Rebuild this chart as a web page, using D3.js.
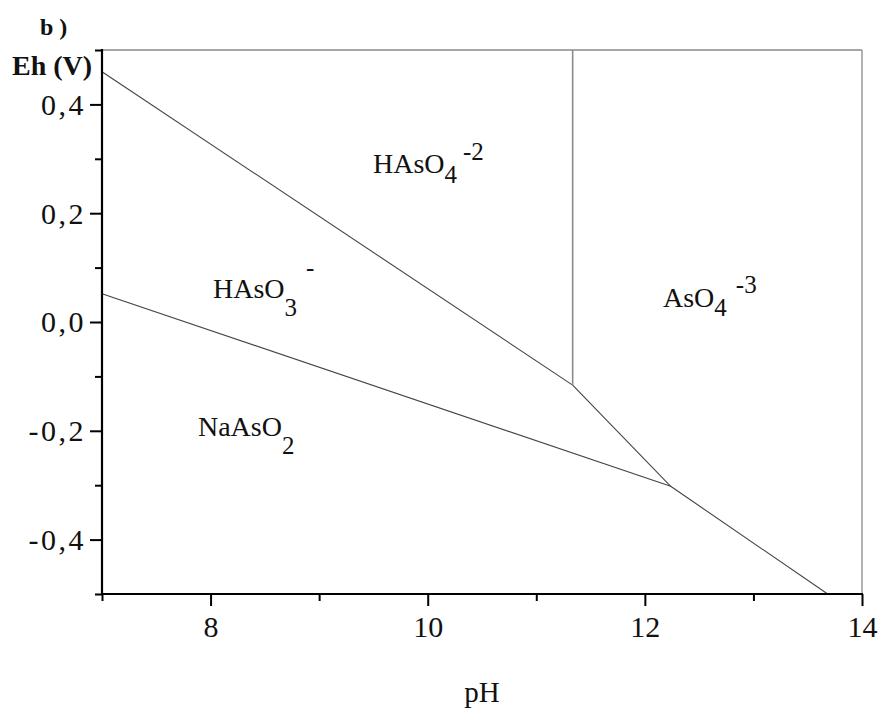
<!DOCTYPE html>
<html>
<head>
<meta charset="utf-8">
<script src="https://cdn.jsdelivr.net/npm/d3@7"></script>
<style>
  html, body { margin: 0; padding: 0; background: #fff; }
  svg { display: block; }
  svg text { font-family: "Liberation Serif", "Times New Roman", serif !important; fill: #111; }
</style>
</head>
<body>
<svg id="chart" width="882" height="708"></svg>
<script>
// ---- data ----
const xDomain = [7, 14];
const yDomain = [-0.5, 0.5];
const xMajorTicks = [8, 10, 12, 14];
const xMinorTicks = [7, 9, 11, 13];
const yMajorTicks = [-0.4, -0.2, 0.0, 0.2, 0.4];
const yMinorTicks = [-0.5, -0.3, -0.1, 0.1, 0.3, 0.5];
const yTickLabels = ["-0,4", "-0,2", "0,0", "0,2", "0,4"];

// boundary lines (pH, Eh)
const boundaryHAsO3_HAsO4 = { pH: [7, 11.335], Eh: [0.46, -0.116] };
const boundaryHAsO4_AsO4 = { pH: [11.335, 11.335], Eh: [0.5, -0.116] };
const boundaryAsO4_lower = { pH: [11.335, 12.238, 13.684], Eh: [-0.116, -0.302, -0.5] };
const boundaryHAsO3_NaAsO2 = { pH: [7, 12.238], Eh: [0.052, -0.302] };

// species labels: main text, subscript, superscript, anchor (pH, Eh)
const speciesMain = ["HAsO", "AsO", "HAsO", "NaAsO"];
const speciesSub = ["4", "4", "3", "2"];
const speciesSup = ["-2", "-3", "-", ""];
const speciesPH = [9.496, 12.167, 8.022, 7.884];
const speciesEh = [0.273, 0.028, 0.045, -0.21];

const panelTitle = "b )";
const yTitle = "Eh (V)";
const xTitle = "pH";

// ---- drawing ----
(function () {
const svg = d3.select("#chart");
const mL = 102, mR = 862, mT = 50, mB = 594;

const x = d3.scaleLinear().domain(xDomain).range([mL, mR]);
const y = d3.scaleLinear().domain(yDomain).range([mB, mT]);

// frame (top/right, gray thin)
svg.append("line").attr("x1", mL).attr("x2", mR).attr("y1", mT).attr("y2", mT)
  .attr("stroke", "#8a8a8a").attr("stroke-width", 1.3);
svg.append("line").attr("x1", mR).attr("x2", mR).attr("y1", mT).attr("y2", mB)
  .attr("stroke", "#8a8a8a").attr("stroke-width", 1.3);

// boundary lines
const line = d3.line().x(d => x(d[0])).y(d => y(d[1]));
function drawBoundary(b, color, w) {
  const pts = b.pH.map((p, i) => [p, b.Eh[i]]);
  svg.append("path").datum(pts).attr("d", line)
    .attr("fill", "none").attr("stroke", color).attr("stroke-width", w);
}
drawBoundary(boundaryHAsO3_HAsO4, "#444", 1.1);
drawBoundary(boundaryHAsO4_AsO4, "#8a8a8a", 1.6);
drawBoundary(boundaryAsO4_lower, "#444", 1.1);
drawBoundary(boundaryHAsO3_NaAsO2, "#444", 1.1);

// x axis
const gx = svg.append("g").attr("transform", `translate(0,${mB})`);
gx.call(d3.axisBottom(x).tickValues(xMajorTicks).tickSize(12).tickSizeOuter(0).tickFormat(d3.format("d")));
gx.attr("font-family", null);
gx.select(".domain").remove();
gx.selectAll(".tick line").attr("stroke", "#000").attr("stroke-width", 2);
gx.selectAll(".tick text").attr("font-size", 30)
  .attr("fill", "#111").attr("y", 0).attr("dy", 43);
const gxm = svg.append("g").attr("transform", `translate(0,${mB})`);
gxm.call(d3.axisBottom(x).tickValues(xMinorTicks).tickSize(7).tickSizeOuter(0).tickFormat(""));
gxm.select(".domain").remove();
gxm.selectAll(".tick line").attr("stroke", "#000").attr("stroke-width", 2);

// y axis
const gy = svg.append("g").attr("transform", `translate(${mL},0)`);
gy.call(d3.axisLeft(y).tickValues(yMajorTicks).tickSize(12).tickSizeOuter(0)
  .tickFormat((d, i) => yTickLabels[i]));
gy.attr("font-family", null);
gy.select(".domain").remove();
gy.selectAll(".tick line").attr("stroke", "#000").attr("stroke-width", 2);
gy.selectAll(".tick text").attr("font-size", 30).style("letter-spacing", "2.5px")
  .attr("fill", "#111").attr("x", -16).attr("dy", "0.33em");
const gym = svg.append("g").attr("transform", `translate(${mL},0)`);
gym.call(d3.axisLeft(y).tickValues(yMinorTicks).tickSize(7).tickSizeOuter(0).tickFormat(""));
gym.select(".domain").remove();
gym.selectAll(".tick line").attr("stroke", "#000").attr("stroke-width", 2);

// axis lines (black)
svg.append("line").attr("x1", mL).attr("x2", mL).attr("y1", mT - 1).attr("y2", mB + 1)
  .attr("stroke", "#000").attr("stroke-width", 2.2);
svg.append("line").attr("x1", mL - 1).attr("x2", mR + 1).attr("y1", mB).attr("y2", mB)
  .attr("stroke", "#000").attr("stroke-width", 2.2);

// species labels
const subOff = [10, 9, 18, 18];
const supOff = [-13, -14, -22, 0];
const supDx = [6, 9, 9, 0];
speciesMain.forEach((m, i) => {
  const t = svg.append("text")
    .attr("x", x(speciesPH[i])).attr("y", y(speciesEh[i]))
    .attr("font-size", 28);
  t.append("tspan").text(m);
  t.append("tspan").attr("font-size", 25).attr("dy", subOff[i]).text(speciesSub[i]);
  if (speciesSup[i]) {
    t.append("tspan").attr("font-size", 25).attr("dx", supDx[i]).attr("dy", supOff[i] - subOff[i]).text(speciesSup[i]);
  }
});

// titles
svg.append("text").attr("x", 40).attr("y", 35).attr("font-size", 24).attr("font-weight", "bold")
  .attr("xml:space", "preserve").text(panelTitle);
svg.append("text").attr("x", 12).attr("y", 75).attr("font-size", 28).attr("font-weight", "bold").text(yTitle);
svg.append("text").attr("x", (mL + mR) / 2).attr("y", 702).attr("text-anchor", "middle")
  .attr("font-size", 29).text(xTitle);
})();
</script>
</body>
</html>
